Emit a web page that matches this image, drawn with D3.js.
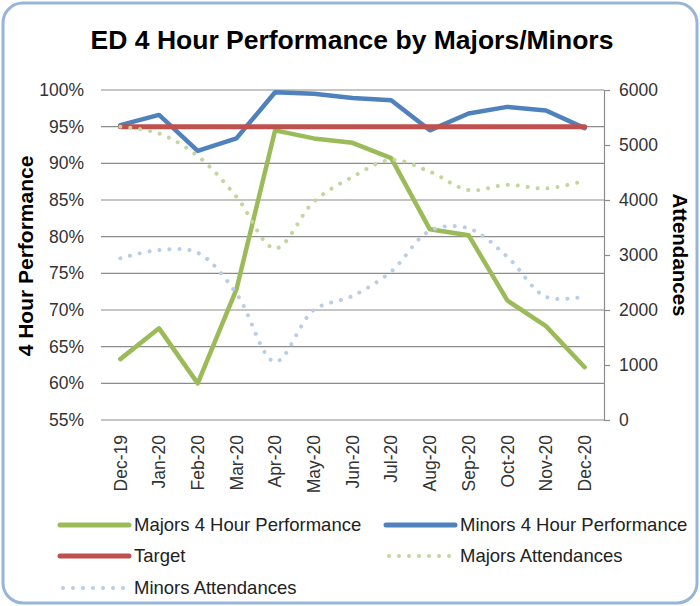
<!DOCTYPE html>
<html><head><meta charset="utf-8">
<script src="https://cdn.jsdelivr.net/npm/d3@7/dist/d3.min.js"></script>
<style>
html,body{margin:0;padding:0;background:#fff;}
text{font-family:"Liberation Sans",Arial,sans-serif;}
</style></head>
<body>
<svg id="chart" width="700" height="606"></svg>
<script>
const months = ["Dec-19","Jan-20","Feb-20","Mar-20","Apr-20","May-20","Jun-20","Jul-20","Aug-20","Sep-20","Oct-20","Nov-20","Dec-20"];
const majorsPerf = [0.633,0.675,0.600,0.728,0.945,0.934,0.928,0.907,0.810,0.802,0.713,0.678,0.622];
const minorsPerf = [0.952,0.966,0.917,0.934,0.997,0.995,0.989,0.986,0.945,0.968,0.977,0.972,0.948];
const target = [0.95,0.95,0.95,0.95,0.95,0.95,0.95,0.95,0.95,0.95,0.95,0.95,0.95];
const majorsAtt = [5333,5210,4800,4060,3120,3970,4420,4730,4515,4180,4275,4210,4350];
const minorsAtt = [2940,3090,3040,2300,1060,2000,2255,2700,3440,3485,2970,2240,2245];
const leftTicks = [0.55,0.60,0.65,0.70,0.75,0.80,0.85,0.90,0.95,1.00];
const rightTicks = [0,1000,2000,3000,4000,5000,6000];
const seriesNames = ["Majors 4 Hour Performance","Minors 4 Hour Performance","Target","Majors Attendances","Minors Attendances"];

const svg = d3.select("#chart");
const L = 101, R = 604, T = 90, B = 420;

svg.append("rect").attr("x",3).attr("y",3).attr("width",694).attr("height",600)
  .attr("rx",20).attr("ry",20).attr("fill","#fff").attr("stroke","#97b5d9").attr("stroke-width",3);

svg.append("text").attr("x",352).attr("y",49).attr("text-anchor","middle")
  .attr("font-size",26.5).attr("font-weight","bold").attr("fill","#000")
  .text("ED 4 Hour Performance by Majors/Minors");

const x = d3.scaleBand().domain(months).range([L,R]);
const cx = d => x(d) + x.bandwidth()/2;
const y = d3.scaleLinear().domain([0.55,1]).range([B,T]);
const y2 = d3.scaleLinear().domain([0,6000]).range([B,T]);

// gridlines
svg.append("g").selectAll("line").data(leftTicks).join("line")
  .attr("x1",L).attr("x2",R).attr("y1",d=>y(d)).attr("y2",d=>y(d))
  .attr("stroke","#8c8c8c").attr("stroke-width",1.2);

// left axis
const la = svg.append("g").attr("transform",`translate(${L},0)`)
  .call(d3.axisLeft(y).tickValues(leftTicks).tickFormat(d3.format(".0%")).tickSize(0).tickPadding(17));
la.select(".domain").remove();
la.selectAll("text").attr("font-size",17.5).attr("fill","#333").attr("font-family","Liberation Sans, Arial, sans-serif");

// right axis
const ra = svg.append("g").attr("transform",`translate(${R},0)`)
  .call(d3.axisRight(y2).tickValues(rightTicks).tickFormat(d3.format("d")).tickSize(6).tickSizeOuter(0).tickPadding(9));
ra.select(".domain").attr("stroke","#8c8c8c").attr("stroke-width",1.2);
ra.selectAll(".tick line").attr("stroke","#8c8c8c").attr("stroke-width",1.2);
ra.selectAll("text").attr("font-size",17.5).attr("fill","#333").attr("font-family","Liberation Sans, Arial, sans-serif");

// x axis labels
const xa = svg.append("g").attr("transform",`translate(0,${B})`)
  .call(d3.axisBottom(x).tickSize(0).tickPadding(0));
xa.select(".domain").remove();
xa.selectAll("text")
  .attr("font-size",17.5).attr("fill","#333").attr("font-family","Liberation Sans, Arial, sans-serif")
  .attr("text-anchor","end").attr("dy",null).attr("y",null)
  .attr("transform","translate(6.3,15) rotate(-90)");

// axis titles
svg.append("text").attr("transform","translate(33,256) rotate(-90)").attr("text-anchor","middle")
  .attr("font-size",21).attr("font-weight","bold").attr("fill","#000").text("4 Hour Performance");
svg.append("text").attr("transform","translate(673,255) rotate(90)").attr("text-anchor","middle")
  .attr("font-size",20.5).attr("font-weight","bold").attr("fill","#000").text("Attendances");

const lineStraight = (arr, sc) => d3.line().x((d,i)=>cx(months[i])).y(d=>sc(d))(arr);
const lineSmooth = (arr, sc) => d3.line().curve(d3.curveCatmullRom.alpha(0.5)).x((d,i)=>cx(months[i])).y(d=>sc(d))(arr);

const colGreen = "#9bbb59", colBlue = "#4f81bd", colRed = "#c0504d", colGreenDot = "#c3d69b", colBlueDot = "#b9cde5";

svg.append("path").attr("d",lineStraight(majorsPerf,y)).attr("fill","none").attr("stroke",colGreen).attr("stroke-width",4.5).attr("stroke-linejoin","round").attr("stroke-linecap","round");
svg.append("path").attr("d",lineStraight(minorsPerf,y)).attr("fill","none").attr("stroke",colBlue).attr("stroke-width",4.5).attr("stroke-linejoin","round").attr("stroke-linecap","round");
svg.append("path").attr("d",lineStraight(target,y)).attr("fill","none").attr("stroke",colRed).attr("stroke-width",5).attr("stroke-linecap","round");
svg.append("path").attr("d",lineSmooth(majorsAtt,y2)).attr("fill","none").attr("stroke",colGreenDot).attr("stroke-width",4).attr("stroke-linecap","round").attr("stroke-dasharray","0.01 10");
svg.append("path").attr("d",lineSmooth(minorsAtt,y2)).attr("fill","none").attr("stroke",colBlueDot).attr("stroke-width",4).attr("stroke-linecap","round").attr("stroke-dasharray","0.01 10");

// legend
const legend = [
  {name:seriesNames[0], col:colGreen, dot:false, x:60, y:525},
  {name:seriesNames[1], col:colBlue, dot:false, x:386, y:525},
  {name:seriesNames[2], col:colRed, dot:false, x:60, y:556},
  {name:seriesNames[3], col:colGreenDot, dot:true, x:386, y:556},
  {name:seriesNames[4], col:colBlueDot, dot:true, x:60, y:588}
];
const lg = svg.append("g").selectAll("g").data(legend).join("g");
lg.append("line").attr("x1",d=>d.x+(d.dot?3:0)).attr("x2",d=>d.x+69).attr("y1",d=>d.y).attr("y2",d=>d.y)
  .attr("stroke",d=>d.col).attr("stroke-width",d=>d.dot?4:5).attr("stroke-linecap","round")
  .attr("stroke-dasharray",d=>d.dot?"0.01 10":null);
lg.append("text").attr("x",d=>d.x+74).attr("y",d=>d.y).attr("dy","0.35em")
  .attr("font-size",18.5).attr("fill","#222").text(d=>d.name);
</script>
</body></html>
